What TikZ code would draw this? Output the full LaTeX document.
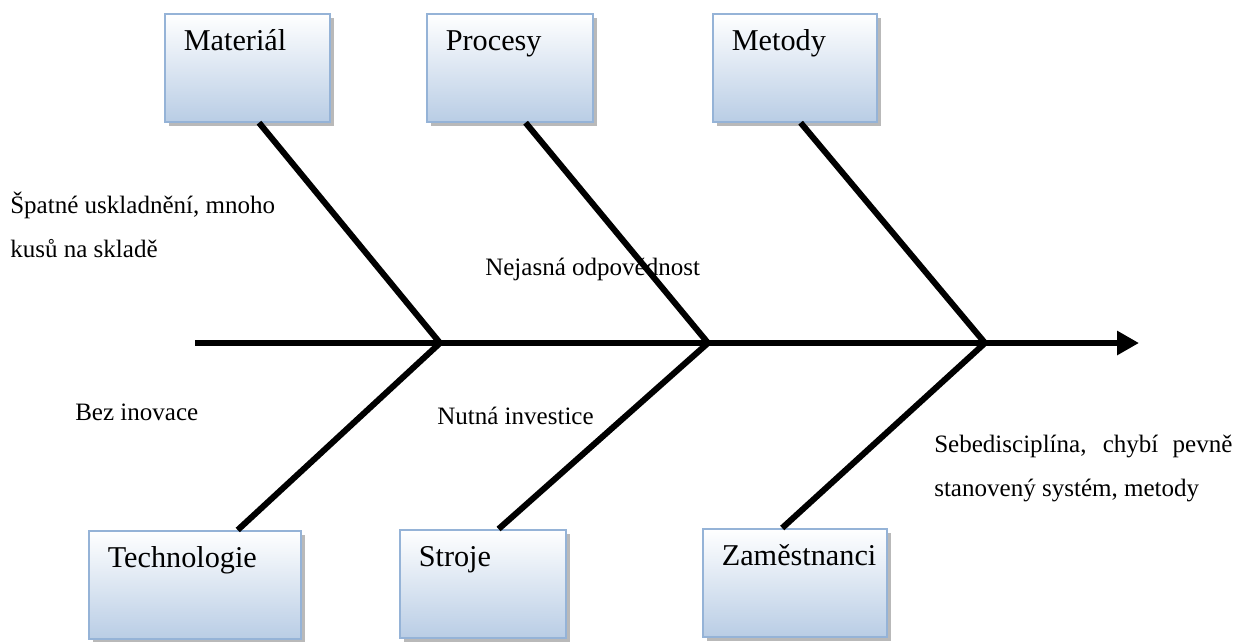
\documentclass[tikz,border=0pt]{standalone}
\usepackage{fontspec}
\setmainfont{Liberation Serif}
\usetikzlibrary{positioning}
\usetikzlibrary{calc}
\usetikzlibrary{arrows.meta}
\usetikzlibrary{shadows}
\definecolor{boxblue}{HTML}{B9CDE5}
\definecolor{boxedge}{HTML}{95B3D7}
\tikzset{
  causebox/.style={rectangle, draw=boxedge, line width=1.2pt, top color=white, bottom color=boxblue,
    anchor=north west, inner xsep=13.5pt, inner ysep=0pt, align=left, text width=#1,
    text height=26.3pt, text depth=50.5pt, font=\fontsize{21.5}{25}\selectfont,
    drop shadow={shadow xshift=3pt, shadow yshift=-3pt, fill=gray!55, opacity=1}},
  bone/.style={line width=4.3pt, line join=miter},
  note/.style={anchor=base west, inner sep=0pt, align=left, font=\fontsize{17.8}{30.6}\selectfont},
}

\begin{document}
\begin{tikzpicture}[x=0.025cm, y=-0.025cm]
			\useasboundingbox (0,0) rectangle (1246,641);
			% cause boxes
			\node[causebox=3.175cm] (mat) at (164,13) {Materiál};
			\node[causebox=3.2cm] (pro) at (426,13) {Procesy};
			\node[causebox=3.15cm] (met) at (712,13) {Metody};
			\node[causebox=4.35cm] (tec) at (88,530) {Technologie};
			\node[causebox=3.2cm] (str) at (399,529) {Stroje};
			\node[causebox=3.65cm] (zam) at (702,528) {Zaměstnanci};
			% notes (base = last line)
			\node[note] (spatne) at (10,257) {Špatné uskladnění, mnoho\\kusů na skladě};
			\node[note] (nejasna) at (485,275) {Nejasná odpovědnost};
			\node[note] (bez) at (75,420) {Bez inovace};
			\node[note] (nutna) at (437,424) {Nutná investice};
			\node[note] (sebe) at (934,496) {\makebox[7.45cm][s]{Sebedisciplína, chybí pevně}\\stanovený systém, metody};
			% spine
			\coordinate (tail) at (195,343);
			\coordinate (head) at (1139,343);
			\coordinate (j1) at (440,343);
			\coordinate (j2) at (708,343);
			\coordinate (j3) at (985,343);
			\draw[bone, -{Triangle[length=15.6pt,width=16.4pt]}] (tail) -- (head);
			% bones
			\draw[bone] (mat.-78) -- (j1) -- (tec.52.5);
			\draw[bone] (pro.-74.5) -- (j2) -- (str.74.5);
			\draw[bone] (met.-84) -- (j3) -- (zam.103.5);
\end{tikzpicture}
\end{document}
